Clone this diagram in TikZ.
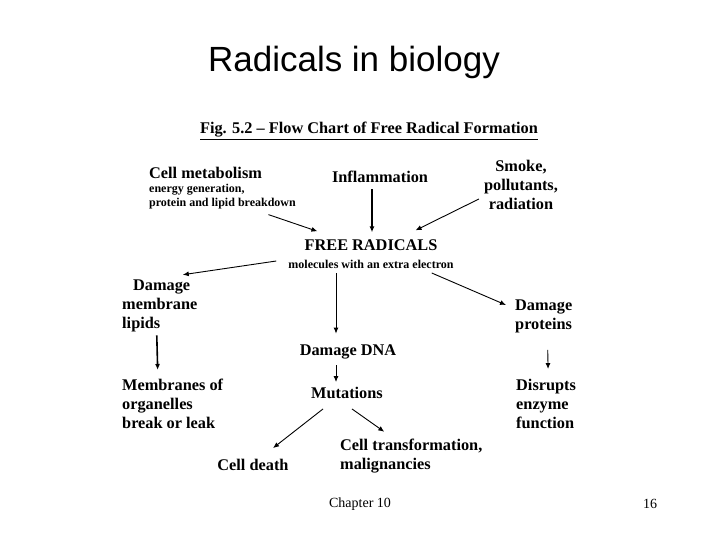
\documentclass[tikz,border=0pt]{standalone}
\usepackage{fontspec}
\setmainfont{Liberation Serif}
\newfontfamily\arialfont{Liberation Sans}
\usetikzlibrary{arrows.meta,calc}
\begin{document}
\begin{tikzpicture}[x=1pt,y=-1pt,
  lbl/.style={inner sep=0pt, font=\bfseries\fontsize{16.3}{19}\selectfont},
  sml/.style={inner sep=0pt, font=\bfseries\fontsize{12}{14}\selectfont},
  arr/.style={line width=0.9pt, -{Latex[length=6pt,width=5pt]}},
  thick arr/.style={line width=1.6pt, -{Latex[length=6pt,width=5pt]}},
  foot/.style={inner sep=0pt, font=\fontsize{14}{16}\selectfont},
]
\useasboundingbox[fill=white] (0,0) rectangle (720,540);
\node[inner sep=0pt, font=\arialfont\fontsize{35}{40}\selectfont] (title) at (354,62) {Radicals in biology};
\node[lbl] (fig) at (369,131) {\underline{Fig. 5.2 -- Flow Chart of Free Radical Formation}};

\node[lbl, anchor=west] (cellmet) at (149,173) {Cell metabolism};
\node[sml, anchor=west, align=left] (cellsub) at (149,197) {energy generation,\\protein and lipid breakdown};
\node[lbl] (inflam) at (380,177) {Inflammation};
\node[lbl, align=center] (smoke) at (521,185) {Smoke,\\pollutants,\\radiation};

\node[lbl] (free) at (371,245) {FREE RADICALS};
\node[sml] (freesub) at (371,264) {molecules with an extra electron};

\node[lbl, anchor=west, align=left] (dml) at (122,306) {\hspace*{11pt}Damage\\membrane\\lipids};
\node[lbl] (dna) at (348,352) {Damage DNA};
\node[lbl, anchor=west, align=left] (dprot) at (515,316) {Damage\\proteins};

\node[lbl, anchor=west, align=left] (memb) at (122,404) {Membranes of\\organelles\\break or leak};
\node[lbl] (mut) at (347,393) {Mutations};
\node[lbl, anchor=west, align=left] (disr) at (516,404) {Disrupts\\enzyme\\function};

\node[lbl] (death) at (253,465) {Cell death};
\node[lbl, anchor=west, align=left] (transf) at (340,456) {Cell transformation,\\malignancies};

\draw[arr] ($(cellsub.south)+(46,5)$) -- ($(free.north west)+(13,-8)$);
\draw[thick arr] ($(inflam.south)+(-8,6)$) -- ($(free.north)+(1,-7)$);
\draw[arr] ($(smoke.west)+(-5,14)$) -- ($(free.north east)+(-22,-9)$);

\draw[arr] ($(freesub.west)+(-12,-3)$) -- ($(dml.north)+(23,-5)$);
\draw[arr] ($(freesub.south)+(-35,5)$) -- ($(dna.north)+(-12,-11)$);
\draw[arr] ($(freesub.east)+(-22,9)$) -- ($(dprot.west)+(-9,-11)$);

\draw[thick arr] ($(dml.south)+(-3,3)$) -- ($(memb.north)+(-15,-9)$);
\draw[arr] ($(dna.south)+(-12,6)$) -- ($(mut.north)+(-11,-5)$);
\draw[arr] ($(dprot.south)+(4,17)$) -- ($(disr.north)+(2,-10)$);

\draw[arr] ($(mut.south)+(-24,10)$) -- ($(death.north)+(20,-11)$);
\draw[arr] ($(mut.south)+(5,10)$) -- ($(transf.north)+(-27,-7)$);

\node[foot] (chap) at (360,504) {Chapter 10};
\node[foot] (page) at (650,504) {16};
\end{tikzpicture}
\end{document}
